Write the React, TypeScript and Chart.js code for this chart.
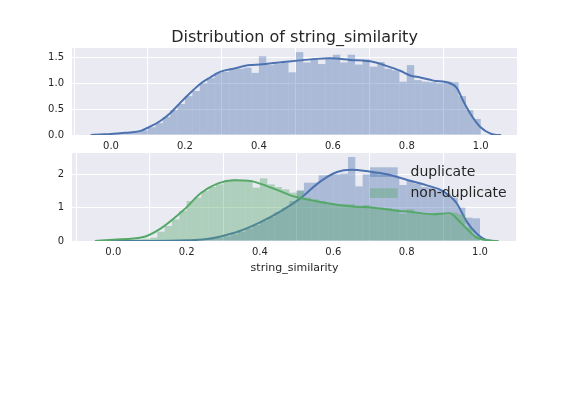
import React, { useEffect, useRef } from "react";
import { Chart, registerables } from "chart.js";

Chart.register(...registerables);

// ---------- data ----------
const chartTitle = "Distribution of string_similarity";
const xLabel = "string_similarity";
const seriesLabels = ["duplicate", "non-duplicate"];

const xTicks = [0, 0.2, 0.4, 0.6, 0.8, 1.0];
const topYTicks = [0, 0.5, 1.0, 1.5];
const bottomYTicks = [0, 1, 2];

const binStart = 0;
const binWidth = 0.02;

// all pairs histogram (density, 50 bins of 0.02 from 0 to 1)
const allHist = [
  0.03, 0.04, 0.05, 0.06, 0.09, 0.15, 0.23, 0.35, 0.48, 0.6,
  0.75, 0.85, 1.0, 1.1, 1.2, 1.22, 1.27, 1.28, 1.3, 1.2,
  1.52, 1.35, 1.37, 1.4, 1.21, 1.6, 1.4, 1.48, 1.37, 1.48,
  1.55, 1.4, 1.55, 1.36, 1.46, 1.32, 1.41, 1.28, 1.25, 1.03,
  1.35, 1.06, 1.03, 1.02, 1.0, 1.03, 1.02, 0.75, 0.48, 0.31,
];
const allKdeX = [
  -0.055, -0.03, 0.0, 0.03, 0.05, 0.08, 0.105, 0.133, 0.16, 0.187, 0.214, 0.24,
  0.268, 0.295, 0.331, 0.376, 0.403, 0.466, 0.556, 0.592, 0.646, 0.71, 0.755,
  0.782, 0.809, 0.836, 0.872, 0.917, 0.935, 0.953, 0.971, 0.998, 1.025, 1.043, 1.055,
];
const allKdeY = [
  0.0, 0.01, 0.02, 0.04, 0.05, 0.08, 0.16, 0.27, 0.42, 0.62, 0.81, 0.98,
  1.11, 1.22, 1.28, 1.35, 1.36, 1.41, 1.47, 1.48, 1.45, 1.41, 1.31,
  1.24, 1.15, 1.11, 1.05, 1.0, 0.91, 0.65, 0.42, 0.16, 0.03, 0.0, 0.0,
];

// duplicate histogram
const dupHist = [
  0, 0, 0, 0, 0, 0, 0.01, 0.01, 0.01, 0.02,
  0.02, 0.03, 0.05, 0.07, 0.1, 0.14, 0.2, 0.28, 0.38, 0.48,
  0.6, 0.72, 0.86, 1.0, 1.2, 1.52, 1.75, 1.75, 1.97, 1.98,
  2.0, 2.02, 2.52, 1.64, 2.0, 2.05, 2.0, 1.98, 1.92, 1.68,
  1.8, 1.72, 1.62, 1.6, 1.52, 1.42, 1.3, 1.0, 0.7, 0.68,
];
const dupKdeX = [
  -0.05, 0.1, 0.2, 0.25, 0.29, 0.345, 0.4, 0.455, 0.51, 0.564, 0.61, 0.65,
  0.7, 0.746, 0.8, 0.855, 0.9, 0.936, 0.964, 0.99, 1.02, 1.05,
];
const dupKdeY = [
  0, 0.0, 0.02, 0.05, 0.13, 0.3, 0.56, 0.88, 1.28, 1.78, 2.07, 2.14,
  2.08, 2.0, 1.84, 1.67, 1.49, 1.14, 0.58, 0.23, 0.02, 0,
];

// non-duplicate histogram
const nondupHist = [
  0.02, 0.03, 0.04, 0.05, 0.07, 0.1, 0.28, 0.45, 0.65, 0.9,
  1.2, 1.3, 1.5, 1.62, 1.7, 1.8, 1.85, 1.8, 1.78, 1.6,
  1.88, 1.7, 1.62, 1.55, 1.45, 1.5, 1.3, 1.25, 1.2, 1.1,
  1.08, 1.1, 1.1, 1.05, 1.08, 1.0, 1.0, 0.98, 0.95, 0.82,
  0.95, 0.86, 0.8, 0.78, 0.8, 0.78, 0.85, 0.8, 0.4, 0.15,
];
const nondupKdeX = [
  -0.05, 0.0, 0.079, 0.13, 0.194, 0.239, 0.284, 0.33, 0.375, 0.4, 0.45, 0.483,
  0.564, 0.646, 0.708, 0.78, 0.809, 0.872, 0.917, 0.945, 0.99, 1.03, 1.05,
];
const nondupKdeY = [
  0, 0.04, 0.11, 0.38, 0.95, 1.44, 1.72, 1.82, 1.8, 1.72, 1.52, 1.37,
  1.17, 1.04, 1.0, 0.9, 0.88, 0.8, 0.83, 0.58, 0.11, 0.01, 0,
];

// ---------- styling ----------
const BLUE = "#4C72B0";
const GREEN = "#55A868";
const BLUE_FILL = "rgba(76,114,176,0.4)";
const GREEN_FILL = "rgba(85,168,104,0.4)";
const TEXT = "#262626";
const FONT = "'DejaVu Sans', sans-serif";

Chart.defaults.font.family = FONT;

const histPoints = (h: number[]) =>
  h.map((v, i) => ({ x: binStart + binWidth * (i + 0.5), y: v }));
const kdePoints = (xs: number[], ys: number[]) =>
  xs.map((x, i) => ({ x, y: ys[i] }));

const bgPlugin = {
  id: "plotBg",
  beforeDraw(chart: any) {
    const { ctx, chartArea: a } = chart;
    ctx.save();
    ctx.fillStyle = "#EAEAF2";
    ctx.fillRect(a.left, a.top, a.right - a.left, a.bottom - a.top);
    ctx.restore();
  },
};

const legendPlugin = {
  id: "insideLegend",
  afterDraw(chart: any) {
    const { ctx, chartArea: a } = chart;
    const fills = [BLUE_FILL, GREEN_FILL];
    ctx.save();
    ctx.font = `14px ${FONT}`;
    ctx.textBaseline = "middle";
    ctx.textAlign = "left";
    seriesLabels.forEach((lab, i) => {
      const top = a.top + 14.3 + i * 21;
      ctx.fillStyle = fills[i];
      ctx.fillRect(a.left + 298, top, 27.7, 9.6);
      ctx.fillStyle = TEXT;
      ctx.fillText(lab, a.left + 338.5, top + 5);
    });
    ctx.restore();
  },
};

const zeroPad = (s: any) => {
  s.paddingTop = 0;
  s.paddingBottom = 0;
  s.paddingLeft = 0;
  s.paddingRight = 0;
};

function makeX(min: number, max: number, height: number, withTitle: boolean) {
  return {
    type: "linear",
    min,
    max,
    offset: false,
    grid: { color: "#ffffff", lineWidth: 1, drawTicks: false },
    border: { display: false },
    afterBuildTicks: (s: any) => {
      s.ticks = xTicks.map((v) => ({ value: v }));
    },
    afterFit: (s: any) => {
      s.height = height;
      zeroPad(s);
    },
    ticks: {
      callback: (v: any) => Number(v).toFixed(1),
      color: TEXT,
      font: { size: 10 },
      padding: 5,
      maxRotation: 0,
      autoSkip: false,
    },
    title: withTitle
      ? { display: true, text: xLabel, color: TEXT, font: { size: 11 }, padding: { top: 0, bottom: 5 } }
      : { display: false },
  };
}

function makeY(max: number, ticks: number[], digits: number) {
  return {
    type: "linear",
    min: 0,
    max,
    grid: { color: "#ffffff", lineWidth: 1, drawTicks: false },
    border: { display: false },
    afterBuildTicks: (s: any) => {
      s.ticks = ticks.map((v) => ({ value: v }));
    },
    afterFit: (s: any) => {
      s.width = 72;
      zeroPad(s);
    },
    ticks: {
      callback: (v: any) => Number(v).toFixed(digits),
      color: TEXT,
      font: { size: 10 },
      padding: 8,
    },
  };
}

export default function App() {
  const topRef = useRef<HTMLCanvasElement>(null);
  const botRef = useRef<HTMLCanvasElement>(null);

  useEffect(() => {
    const top = new Chart(topRef.current as HTMLCanvasElement, {
      type: "bar",
      data: {
        datasets: [
          {
            type: "line",
            data: kdePoints(allKdeX, allKdeY),
            borderColor: BLUE,
            borderWidth: 2,
            pointRadius: 0,
            cubicInterpolationMode: "monotone",
            fill: false,
            order: 0,
          } as any,
          {
            type: "bar",
            data: histPoints(allHist),
            backgroundColor: BLUE_FILL,
            borderWidth: 0,
            barPercentage: 1,
            categoryPercentage: 1,
            grouped: false,
            inflateAmount: 0,
            order: 1,
          } as any,
        ],
      },
      options: {
        animation: false,
        responsive: false,
        events: [],
        layout: { autoPadding: false, padding: { left: 0, right: 59, top: 0, bottom: 0 } },
        plugins: {
          legend: { display: false },
          tooltip: { enabled: false },
          title: {
            display: true,
            text: chartTitle,
            color: TEXT,
            fullSize: false,
            font: { size: 16, weight: "normal" },
            padding: { top: 28, bottom: 0.8 },
          },
        },
        scales: {
          x: makeX(-0.1055, 1.098, 15, false),
          y: makeY(1.68, topYTicks, 1),
        },
      } as any,
      plugins: [bgPlugin],
    });

    const bot = new Chart(botRef.current as HTMLCanvasElement, {
      type: "bar",
      data: {
        datasets: [
          {
            type: "bar",
            label: seriesLabels[0],
            data: histPoints(dupHist),
            backgroundColor: BLUE_FILL,
            borderWidth: 0,
            barPercentage: 1,
            categoryPercentage: 1,
            grouped: false,
            inflateAmount: 0,
            order: 4,
          } as any,
          {
            type: "line",
            data: kdePoints(dupKdeX, dupKdeY),
            borderColor: BLUE,
            borderWidth: 2,
            pointRadius: 0,
            cubicInterpolationMode: "monotone",
            fill: false,
            order: 3,
          } as any,
          {
            type: "bar",
            label: seriesLabels[1],
            data: histPoints(nondupHist),
            backgroundColor: GREEN_FILL,
            borderWidth: 0,
            barPercentage: 1,
            categoryPercentage: 1,
            grouped: false,
            inflateAmount: 0,
            order: 2,
          } as any,
          {
            type: "line",
            data: kdePoints(nondupKdeX, nondupKdeY),
            borderColor: GREEN,
            borderWidth: 2,
            pointRadius: 0,
            cubicInterpolationMode: "monotone",
            fill: false,
            order: 1,
          } as any,
        ],
      },
      options: {
        animation: false,
        responsive: false,
        events: [],
        layout: { autoPadding: false, padding: { left: 0, right: 59, top: 3, bottom: 0 } },
        plugins: {
          legend: { display: false },
          tooltip: { enabled: false },
        },
        scales: {
          x: makeX(-0.1126, 1.101, 39, true),
          y: makeY(2.64, bottomYTicks, 0),
        },
      } as any,
      plugins: [bgPlugin, legendPlugin],
    });

    return () => {
      top.destroy();
      bot.destroy();
    };
  }, []);

  return (
    <div style={{ position: "absolute", left: 0, top: 0, width: 576, height: 396, background: "#ffffff" }}>
      <canvas ref={topRef} width={576} height={150} style={{ position: "absolute", left: 0, top: 0 }} />
      <canvas ref={botRef} width={576} height={130} style={{ position: "absolute", left: 0, top: 150 }} />
    </div>
  );
}
